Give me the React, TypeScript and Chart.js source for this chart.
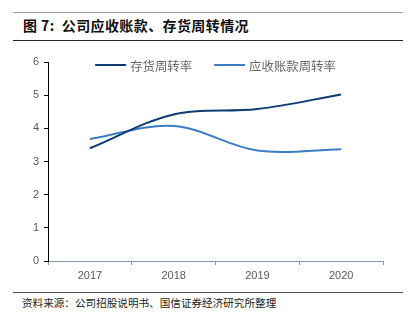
import React, { useEffect, useRef } from "react";
import { Chart, registerables } from "chart.js";

Chart.register(...registerables);

const title = "图 7:  公司应收账款、存货周转情况";
const source = "资料来源：公司招股说明书、国信证券经济研究所整理";
const categories = ["2017", "2018", "2019", "2020"];
const inventoryTurnover = [3.4, 4.42, 4.58, 5.02];
const receivableTurnover = [3.68, 4.07, 3.33, 3.37];
const seriesNames = ["存货周转率", "应收账款周转率"];
const yTicks = [0, 1, 2, 3, 4, 5, 6];

const CANVAS_TOP = 44;

export default function App() {
  const ref = useRef<HTMLCanvasElement | null>(null);

  useEffect(() => {
    document.body.style.margin = "0";
    if (!ref.current) return;
    const lineLegend = {
      id: "lineLegend",
      afterDraw(chart: any) {
        const ctx = chart.ctx;
        const area = chart.chartArea;
        const lineW = 31;
        const gapText = 4;
        const gapItem = 22;
        ctx.save();
        ctx.font = "12.4px 'Noto Sans CJK SC', sans-serif";
        const items = chart.data.datasets.map((ds: any) => ({
          text: ds.label,
          color: ds.borderColor,
          w: lineW + gapText + ctx.measureText(ds.label).width,
        }));
        const total = items.reduce((s: number, it: any) => s + it.w, 0) + gapItem * (items.length - 1);
        let x = (area.left + area.right) / 2 - total / 2;
        const y = area.top + 3;
        items.forEach((it: any) => {
          ctx.strokeStyle = it.color;
          ctx.lineWidth = 2;
          ctx.beginPath();
          ctx.moveTo(x, y);
          ctx.lineTo(x + lineW, y);
          ctx.stroke();
          ctx.fillStyle = "#666666";
          ctx.textBaseline = "middle";
          ctx.textAlign = "left";
          ctx.fillText(it.text, x + lineW + gapText, y + 1);
          x += it.w + gapItem;
        });
        ctx.restore();
      },
    };
    const chart = new Chart(ref.current, {
      type: "line",
      data: {
        labels: categories,
        datasets: [
          {
            label: seriesNames[0],
            data: inventoryTurnover,
            borderColor: "#0f3d72",
            backgroundColor: "#0f3d72",
            borderWidth: 2,
            pointRadius: 0,
            tension: 0.35,
          },
          {
            label: seriesNames[1],
            data: receivableTurnover,
            borderColor: "#3a7dc4",
            backgroundColor: "#3a7dc4",
            borderWidth: 2,
            pointRadius: 0,
            tension: 0.35,
          },
        ],
      },
      options: {
        animation: false,
        responsive: false,
        layout: { padding: { left: 0, right: 27, top: 18, bottom: 0 } },
        plugins: {
          tooltip: { enabled: false },
          legend: { display: false },
        },
        scales: {
          x: {
            offset: true,
            grid: {
              offset: true,
              drawOnChartArea: false,
              drawTicks: true,
              tickLength: 4,
              color: "#8497b0",
            },
            border: { color: "#8497b0", width: 1 },
            ticks: {
              color: "#595959",
              padding: 4,
              font: { family: "'Liberation Sans', Arial, sans-serif", size: 11 },
            },
            afterFit(scale: any) {
              scale.height = 27;
            },
          },
          y: {
            min: 0,
            max: 6,
            afterBuildTicks(scale: any) {
              scale.ticks = yTicks.map((v) => ({ value: v }));
            },
            grid: {
              drawOnChartArea: false,
              drawTicks: true,
              tickLength: 4,
              color: "#000000",
            },
            border: { color: "#000000", width: 1 },
            ticks: {
              color: "#595959",
              padding: 5,
              font: { family: "'Liberation Sans', Arial, sans-serif", size: 11 },
            },
            afterFit(scale: any) {
              scale.width = 48;
            },
          },
        },
      },
      plugins: [lineLegend],
    });
    return () => chart.destroy();
  }, []);

  return (
    <div style={{ position: "absolute", left: 0, top: 0, width: 410, height: 322, background: "#fff", overflow: "hidden" }}>
      <div style={{ position: "absolute", left: 13, top: 12, width: 390, height: 0, borderTop: "1.5px solid #9a9a9a" }} />
      <div
        style={{
          position: "absolute",
          left: 23,
          top: 16,
          fontFamily: "'Noto Sans CJK SC', sans-serif",
          fontWeight: 700,
          fontSize: 14,
          lineHeight: "18px",
          letterSpacing: "0.4px",
          color: "#111",
          whiteSpace: "pre",
        }}
      >
        {title}
      </div>
      <div style={{ position: "absolute", left: 13, top: 40, width: 390, height: 0, borderTop: "1.5px solid #222" }} />
      <canvas ref={ref} width={410} height={244} style={{ position: "absolute", left: 0, top: CANVAS_TOP, width: 410, height: 244 }} />
      <div style={{ position: "absolute", left: 13, top: 292, width: 390, height: 0, borderTop: "1px solid #555" }} />
      <div
        style={{
          position: "absolute",
          left: 22,
          top: 296,
          fontFamily: "'Noto Sans CJK SC', sans-serif",
          fontSize: 10.6,
          lineHeight: "14px",
          color: "#222",
          whiteSpace: "nowrap",
        }}
      >
        {source}
      </div>
    </div>
  );
}
